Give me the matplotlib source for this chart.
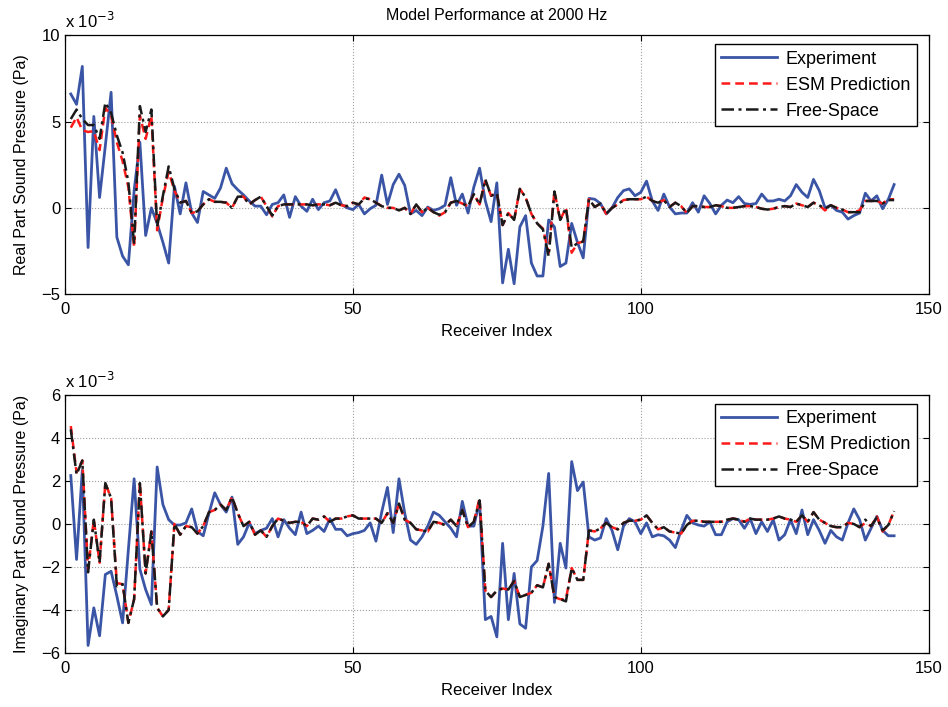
import matplotlib
matplotlib.use("Agg")
import matplotlib.pyplot as plt
import numpy as np

plt.rcParams['font.family'] = ['Liberation Sans', 'DejaVu Sans']

# receiver index 1..144, pressures in units of 1e-3 Pa
receiver = np.arange(1, 145)

exp_re = [6.6, 6.0, 8.2, -2.3, 5.3, 0.6, 3.6, 6.7, -1.7, -2.8,
          -3.3, 1.0, 3.8, -1.6, 0.0, -0.9, -2.0, -3.2, 1.25, -0.35,
          1.45, -0.3, -0.85, 0.95, 0.75, 0.55, 1.15, 2.3, 1.4, 1.05,
          0.75, 0.4, 0.1, 0.1, -0.4, 0.2, 0.3, 0.75, -0.55, 0.65,
          0.1, -0.2, 0.5, -0.1, 0.3, 0.4, 1.05, 0.2, 0.0, -0.1,
          0.2, -0.35, -0.05, 0.15, 1.9, 0.2, 1.35, 1.95, 1.3, -0.35,
          -0.15, -0.45, 0.05, -0.15, -0.05, 0.15, 1.75, 0.15, 0.8, -0.3,
          1.2, 2.3, 0.4, -0.8, 1.45, -4.35, -2.4, -4.4, -1.1, -0.45,
          -3.2, -3.95, -3.95, -0.7, -1.1, -3.4, -3.2, -0.9, -2.0, -2.9,
          0.55, 0.5, 0.25, -0.35, 0.0, 0.6, 1.0, 1.1, 0.7, 0.9,
          1.55, 0.4, -0.15, 0.8, 0.05, -0.35, -0.3, -0.3, 0.3, -0.25,
          0.7, 0.25, -0.35, 0.15, 0.45, 0.3, 0.65, 0.25, 0.2, 0.25,
          0.8, 0.4, 0.4, 0.5, 0.4, 0.7, 1.35, 0.9, 0.6, 1.65,
          1.0, 0.0, 0.15, -0.15, -0.25, -0.65, -0.45, -0.3, 0.85, 0.4,
          0.7, -0.05, 0.5, 1.35]

esm_re = [4.65, 5.25, 4.5, 4.4, 4.45, 3.35, 5.8, 5.35, 3.8, 2.7,
          1.2, -2.3, 5.35, 4.0, 5.35, -1.3, 0.6, 2.1, 1.0, 0.3,
          0.4, -0.3, -0.2, 0.2, 0.5, 0.35, 0.35, 0.3, 0.0, 0.65,
          0.65, 0.2, 0.45, 0.65, 0.1, -0.5, 0.1, 0.2, 0.2, 0.2,
          0.2, 0.2, 0.15, 0.2, 0.2, 0.15, 0.3, 0.15, 0.1, 0.3,
          0.2, 0.6, 0.5, 0.3, 0.1, 0.0, 0.0, -0.15, 0.0, -0.35,
          0.2, -0.25, 0.0, -0.25, -0.45, -0.25, 0.3, 0.4, 0.25, 0.1,
          0.8, 0.2, 1.55, 0.7, 0.85, -1.0, -0.3, -0.7, 1.1, 0.6,
          -0.35, -0.9, -1.2, -2.6, 0.95, -0.7, 0.0, -2.6, -2.05, -1.95,
          0.5, 0.05, 0.25, -0.35, 0.0, 0.2, 0.45, 0.5, 0.5, 0.5,
          0.65, 0.4, 0.3, 0.45, 0.05, 0.3, 0.1, -0.3, 0.1, 0.1,
          0.05, 0.05, 0.15, 0.1, 0.0, 0.0, 0.05, 0.1, 0.1, 0.05,
          -0.05, -0.1, -0.05, 0.05, 0.1, 0.05, 0.25, 0.15, 0.05, 0.3,
          0.15, -0.15, 0.15, 0.0, -0.1, -0.25, -0.25, -0.15, 0.4, 0.4,
          0.4, 0.25, 0.5, 0.5]

free_re = [5.15, 5.7, 5.15, 4.8, 4.8, 4.0, 6.1, 5.5, 4.2, 3.2,
           1.5, -2.1, 5.9, 4.4, 5.7, -1.1, 0.7, 2.4, 1.1, 0.3,
           0.4, -0.3, -0.2, 0.2, 0.5, 0.35, 0.35, 0.3, 0.0, 0.65,
           0.65, 0.2, 0.45, 0.65, 0.1, -0.45, 0.1, 0.2, 0.2, 0.2,
           0.2, 0.2, 0.15, 0.2, 0.2, 0.15, 0.3, 0.15, 0.1, 0.3,
           0.2, 0.55, 0.5, 0.3, 0.1, 0.0, 0.0, -0.15, 0.0, -0.35,
           0.2, -0.25, 0.0, -0.25, -0.4, -0.25, 0.3, 0.4, 0.25, 0.1,
           0.8, 0.2, 1.65, 0.7, 0.85, -1.0, -0.3, -0.7, 1.1, 0.6,
           -0.35, -0.9, -1.25, -2.8, 0.95, -0.7, 0.0, -2.3, -2.05, -1.95,
           0.5, 0.05, 0.25, -0.35, 0.0, 0.2, 0.45, 0.5, 0.5, 0.5,
           0.65, 0.4, 0.3, 0.45, 0.05, 0.3, 0.1, -0.3, 0.1, 0.1,
           0.05, 0.05, 0.15, 0.1, 0.0, 0.0, 0.05, 0.1, 0.1, 0.05,
           -0.05, -0.1, -0.05, 0.05, 0.1, 0.05, 0.25, 0.15, 0.05, 0.3,
           0.15, -0.05, 0.15, 0.0, -0.1, -0.25, -0.25, -0.25, 0.4, 0.4,
           0.4, 0.25, 0.45, 0.45]

exp_im = [2.25, -1.65, 2.5, -5.65, -3.9, -5.2, -2.35, -2.2, -3.35, -4.6,
          -1.2, 2.1, -2.1, -3.05, -3.75, 2.65, 0.9, 0.2, -0.05, -0.05,
          0.05, 0.7, -0.35, -0.55, 0.5, 1.45, 0.9, 0.55, 1.25, -0.95,
          -0.6, 0.05, -0.45, -0.3, -0.2, 0.25, -0.6, 0.2, -0.2, -0.5,
          0.55, -0.45, -0.3, -0.1, -0.35, 0.25, -0.25, -0.25, -0.55, -0.45,
          -0.4, -0.3, 0.05, -0.8, 0.55, 1.7, -0.4, 2.1, 0.5, -0.75,
          -0.95, -0.6, -0.1, 0.55, 0.4, 0.1, -0.2, -0.6, 1.05, -0.1,
          -0.1, 1.05, -4.45, -4.3, -5.25, -0.9, -4.45, -2.3, -4.65, -4.85,
          -2.0, -1.7, -0.1, 2.35, -3.65, -0.9, -2.05, 2.9, 1.55, 1.95,
          -0.6, -0.75, -0.65, 0.25, -0.3, -1.2, -0.1, 0.25, 0.1, -0.45,
          0.05, -0.6, -0.5, -0.55, -0.75, -1.1, -0.3, 0.4, 0.05, -0.05,
          -0.1, 0.1, -0.5, -0.5, 0.1, 0.25, 0.2, -0.2, 0.25, -0.45,
          0.1, -0.35, 0.2, -0.75, -0.5, 0.2, -0.45, 0.65, -0.5, 0.2,
          -0.3, -0.9, -0.3, -0.6, -0.75, 0.05, 0.7, 0.2, -0.75, -0.2,
          0.35, -0.3, -0.55, -0.55]

esm_im = [4.55, 2.4, 2.95, -2.1, 0.2, -1.8, 1.9, 1.2, -2.75, -2.8,
          -4.6, -3.5, 1.9, -2.3, -0.35, -3.9, -4.3, -4.0, 0.0, -0.5,
          -0.1, -0.15, -0.45, -0.1, 0.55, 0.65, 0.9, 0.65, 1.25, 0.5,
          -0.1, 0.1, -0.5, -0.3, -0.6, -0.1, 0.25, 0.15, 0.05, 0.1,
          0.1, -0.1, 0.25, 0.2, 0.35, 0.1, 0.25, 0.25, 0.35, 0.4,
          0.25, 0.25, 0.25, 0.25, 0.05, 0.5, 0.05, 0.95, 0.2, 0.05,
          -0.25, -0.3, -0.35, 0.1, 0.05, -0.05, 0.2, -0.1, 0.65, -0.15,
          0.1, 1.2, -3.1, -3.4, -3.1, -3.0, -3.05, -2.65, -3.4, -3.3,
          -3.2, -2.85, -2.95, -1.85, -3.4, -3.5, -3.5, -2.05, -2.6, -2.6,
          -0.3, -0.35, -0.2, 0.05, -0.15, -0.25, 0.05, 0.15, 0.15, 0.2,
          0.4, 0.05, -0.25, -0.15, -0.35, -0.4, -0.45, -0.05, 0.15, 0.15,
          0.1, 0.1, 0.1, 0.1, 0.2, 0.25, 0.2, 0.1, 0.25, 0.2,
          0.2, 0.2, 0.25, 0.35, 0.25, 0.2, 0.1, 0.4, 0.1, 0.55,
          0.2, 0.05, -0.1, -0.15, -0.15, 0.05, 0.0, -0.15, 0.05, -0.1,
          0.35, -0.35, -0.05, 0.6]

free_im = [4.4, 2.3, 2.95, -2.25, 0.2, -1.8, 1.9, 1.2, -2.9, -2.8,
           -4.6, -3.5, 1.9, -2.3, -0.35, -3.9, -4.3, -4.0, 0.0, -0.5,
           -0.1, -0.15, -0.45, -0.1, 0.55, 0.65, 0.9, 0.65, 1.25, 0.5,
           -0.1, 0.1, -0.5, -0.3, -0.6, -0.1, 0.25, 0.15, 0.05, 0.1,
           0.1, -0.1, 0.25, 0.2, 0.35, 0.1, 0.25, 0.25, 0.35, 0.4,
           0.25, 0.25, 0.25, 0.25, 0.05, 0.5, 0.05, 0.95, 0.2, 0.05,
           -0.25, -0.3, -0.35, 0.1, 0.05, -0.05, 0.2, -0.1, 0.65, -0.15,
           0.1, 1.1, -3.1, -3.4, -3.1, -3.0, -3.05, -2.65, -3.4, -3.3,
           -3.2, -2.85, -2.95, -1.85, -3.4, -3.5, -3.6, -2.05, -2.6, -2.6,
           -0.3, -0.35, -0.2, 0.05, -0.15, -0.25, 0.05, 0.15, 0.15, 0.2,
           0.4, 0.05, -0.25, -0.15, -0.35, -0.4, -0.45, -0.05, 0.15, 0.15,
           0.1, 0.1, 0.1, 0.1, 0.2, 0.25, 0.2, 0.1, 0.25, 0.2,
           0.2, 0.2, 0.25, 0.35, 0.25, 0.2, 0.1, 0.4, 0.1, 0.55,
           0.2, 0.05, -0.1, -0.15, -0.15, 0.05, 0.0, -0.15, 0.2, -0.1,
           0.3, -0.3, -0.05, 0.6]

x_ticks = [0, 50, 100, 150]
re_ticks = [-5, 0, 5, 10]
im_ticks = [-6, -4, -2, 0, 2, 4, 6]
labels = ['Experiment', 'ESM Prediction', 'Free-Space']

fig = plt.figure(figsize=(9.48, 7.07), dpi=100)
ax1 = fig.add_axes([0.0686, 0.584, 0.911, 0.366])
ax2 = fig.add_axes([0.0686, 0.0764, 0.911, 0.365])

panels = [
    (ax1, exp_re, esm_re, free_re, re_ticks, 'Real Part Sound Pressure (Pa)'),
    (ax2, exp_im, esm_im, free_im, im_ticks, 'Imaginary Part Sound Pressure (Pa)'),
]

for ax, e, m, f, yt, ylab in panels:
    ax.plot(receiver, e, color='#3b55a6', lw=2.0, label=labels[0])
    ax.plot(receiver, m, color='#ff1a1a', lw=1.8, ls=(0, (3.5, 2)), label=labels[1])
    ax.plot(receiver, f, color='#1a1a1a', lw=1.8, ls=(0, (5, 1.8, 1.2, 1.8)), label=labels[2])
    ax.set_xlim(0, 150)
    ax.set_ylim(yt[0], yt[-1])
    ax.set_xticks(x_ticks)
    ax.set_yticks(yt)
    ax.grid(True, color='#a0a0a0', ls=':', lw=0.8)
    ax.tick_params(direction='in', top=True, right=True, labelsize=12, length=4)
    ax.tick_params(axis='x', pad=6)
    ax.set_xlabel('Receiver Index', fontsize=12, labelpad=5)
    ax.set_ylabel(ylab, fontsize=11.5, labelpad=9)
    ax.text(0.0, 1.015, r'x 10$^{-3}$', transform=ax.transAxes, fontsize=12,
            ha='left', va='bottom')
    for s in ax.spines.values():
        s.set_linewidth(0.9)
    leg = ax.legend(loc='upper right', bbox_to_anchor=(0.986, 0.965), borderaxespad=0,
                    fontsize=13, fancybox=False, framealpha=1, edgecolor='black',
                    handlelength=3.1, handletextpad=0.5, borderpad=0.35,
                    labelspacing=0.5)
    leg.get_frame().set_linewidth(1.0)

ax1.set_title('Model Performance at 2000 Hz', fontsize=11.5, pad=11)

fig.savefig('out.png', dpi=100)
